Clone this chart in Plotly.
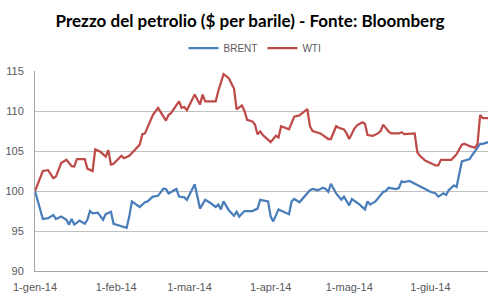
import plotly.graph_objects as go

wti_dates = ["2014-01-01","2014-01-04","2014-01-06","2014-01-08","2014-01-09","2014-01-11","2014-01-13","2014-01-15","2014-01-16","2014-01-17",
             "2014-01-20","2014-01-21","2014-01-23","2014-01-24","2014-01-26","2014-01-28","2014-01-29","2014-01-30","2014-01-31",
             "2014-02-03","2014-02-04","2014-02-05","2014-02-06","2014-02-08","2014-02-10","2014-02-11","2014-02-12","2014-02-15","2014-02-17",
             "2014-02-20","2014-02-21","2014-02-22","2014-02-25","2014-02-26","2014-02-27","2014-02-28",
             "2014-03-03","2014-03-05","2014-03-06","2014-03-07","2014-03-11","2014-03-12","2014-03-13","2014-03-14","2014-03-16","2014-03-18",
             "2014-03-19","2014-03-21","2014-03-22","2014-03-23","2014-03-25","2014-03-26","2014-03-27","2014-03-28","2014-03-29",
             "2014-04-01","2014-04-03","2014-04-04","2014-04-05","2014-04-08","2014-04-09","2014-04-10","2014-04-12","2014-04-13","2014-04-15",
             "2014-04-16","2014-04-17","2014-04-20","2014-04-21","2014-04-23","2014-04-24","2014-04-26","2014-04-27","2014-04-29","2014-04-30",
             "2014-05-01","2014-05-03","2014-05-04","2014-05-06","2014-05-07","2014-05-08","2014-05-10","2014-05-12","2014-05-13","2014-05-14",
             "2014-05-16","2014-05-17","2014-05-20","2014-05-21","2014-05-22","2014-05-26","2014-05-27","2014-05-28","2014-05-30",
             "2014-06-01","2014-06-03","2014-06-04","2014-06-05","2014-06-09","2014-06-10","2014-06-11","2014-06-13","2014-06-14","2014-06-16",
             "2014-06-18","2014-06-19","2014-06-20","2014-06-21","2014-06-23"]
wti_vals = [100,102.5,102.6,101.6,101.8,103.5,103.9,103.1,103.05,104.0,
            104.0,102.8,102.5,105.2,104.9,104.3,105.1,103.3,103.4,
            104.4,104.1,104.3,104.4,105.1,105.8,107.1,107.2,109.5,110.4,
            108.8,109.5,109.75,111.2,110.4,110.5,110.1,
            112.05,110.8,112.05,111.2,111.2,112.5,113.5,114.6,114.1,112.8,
            110.2,110.7,110.0,108.9,108.7,108.3,107.1,107.45,107.0,
            106.1,106.9,106.7,108.1,107.7,108.5,109.3,109.45,109.75,110.25,
            108.1,107.5,107.2,107.0,106.5,106.5,108.1,107.9,107.7,107.2,
            106.5,107.8,108.2,108.6,108.4,107.0,106.9,107.2,107.5,108.3,
            107.45,107.2,107.2,107.35,107.1,107.2,104.85,104.4,103.8,
            103.5,103.2,103.2,103.9,103.9,104.3,104.6,105.8,105.9,105.6,
            105.4,105.9,109.5,109.1,109.1]

brent_dates = ["2014-01-01","2014-01-04","2014-01-06","2014-01-08","2014-01-09","2014-01-11","2014-01-13","2014-01-14","2014-01-15","2014-01-16",
               "2014-01-18","2014-01-20","2014-01-21","2014-01-22","2014-01-23","2014-01-25","2014-01-27","2014-01-28","2014-01-30","2014-01-31",
               "2014-02-05","2014-02-06","2014-02-07","2014-02-10","2014-02-12","2014-02-13","2014-02-15","2014-02-17","2014-02-19","2014-02-20",
               "2014-02-21","2014-02-24","2014-02-25","2014-02-27","2014-02-28",
               "2014-03-03","2014-03-05","2014-03-07","2014-03-09","2014-03-11","2014-03-12","2014-03-13","2014-03-14","2014-03-16","2014-03-18",
               "2014-03-19","2014-03-20","2014-03-22","2014-03-25","2014-03-27","2014-03-28","2014-03-31",
               "2014-04-01","2014-04-02","2014-04-04","2014-04-06","2014-04-08","2014-04-09","2014-04-10","2014-04-12","2014-04-14","2014-04-16",
               "2014-04-17","2014-04-19","2014-04-21","2014-04-22","2014-04-23","2014-04-24","2014-04-26","2014-04-28","2014-04-29","2014-04-30",
               "2014-05-01","2014-05-02","2014-05-05","2014-05-07","2014-05-08","2014-05-09","2014-05-11","2014-05-12","2014-05-14","2014-05-15",
               "2014-05-16","2014-05-19","2014-05-20","2014-05-21","2014-05-22","2014-05-24","2014-05-25","2014-05-27","2014-05-29","2014-05-30",
               "2014-06-01","2014-06-03","2014-06-04","2014-06-06","2014-06-07","2014-06-08","2014-06-10","2014-06-11","2014-06-13","2014-06-14",
               "2014-06-16","2014-06-17","2014-06-19","2014-06-20","2014-06-21","2014-06-23"]
brent_vals = [100,96.5,96.6,97.0,96.5,96.8,96.4,95.8,96.5,95.8,
              96.3,95.9,96.4,97.5,97.2,97.3,96.4,97.1,97.4,95.9,
              95.4,96.8,98.7,98.0,98.6,98.7,99.3,99.4,100.3,100.25,
              99.7,100.25,99.3,99.2,98.9,
              100.85,97.8,98.9,98.5,98.0,98.3,97.7,98.7,97.6,96.9,
              97.4,96.8,97.5,97.5,97.8,98.9,98.7,
              96.8,96.2,97.7,97.4,97.1,98.7,99.0,98.6,99.3,100.1,
              100.25,100.1,100.4,100.25,99.9,100.9,99.7,98.9,99.3,98.7,
              98.2,99.0,98.3,97.7,98.7,98.3,98.7,99.1,99.9,100.0,
              100.4,100.25,100.4,101.2,101.1,101.25,101.1,100.75,100.5,100.25,
              99.9,99.7,99.3,99.7,99.5,100.1,100.7,100.5,103.7,103.8,
              104.0,104.5,105.4,105.9,105.9,106.1]

tick_dates = ["2014-01-01","2014-02-01","2014-03-01","2014-04-01","2014-05-01","2014-06-01"]
tick_labels = ["1-gen-14","1-feb-14","1-mar-14","1-apr-14","1-mag-14","1-giu-14"]

fig = go.Figure()
fig.add_trace(go.Scatter(x=brent_dates, y=brent_vals, mode="lines", name="BRENT",
                         line=dict(color="#4a7ebb", width=2.25)))
fig.add_trace(go.Scatter(x=wti_dates, y=wti_vals, mode="lines", name="WTI",
                         line=dict(color="#be4b48", width=2.25)))

gray = "#595959"
fig.update_layout(
    width=500, height=299,
    margin=dict(l=35, r=12, t=71, b=28),
    paper_bgcolor="white", plot_bgcolor="white",
    font=dict(family="Liberation Sans, Arial, sans-serif", color=gray, size=11),
    title=dict(text="<b>Prezzo del petrolio ($ per barile) - Fonte: Bloomberg</b>",
               x=0.5, xanchor="center", xref="container",
               y=1 - 21/299, yanchor="middle", yref="container",
               font=dict(family="Lato, Liberation Sans, sans-serif", size=17, color="black")),
    legend=dict(orientation="h", x=0.51, xanchor="center", xref="container",
                y=1 - 48/299, yanchor="middle", yref="container",
                font=dict(size=10, color=gray), itemwidth=30, tracegroupgap=0),
    xaxis=dict(range=["2014-01-01", "2014-06-23"], tickvals=tick_dates, ticktext=tick_labels,
               showgrid=False, showline=True, linecolor="#a6a6a6", linewidth=1,
               ticks="", tickfont=dict(size=11, color=gray), zeroline=False,
               ticklabelstandoff=6, automargin=False),
    yaxis=dict(range=[90, 115], dtick=5, showgrid=True, gridcolor="#c0c0c0", gridwidth=1,
               showline=True, linecolor="#a6a6a6", linewidth=1, ticks="",
               tickfont=dict(size=11, color=gray), zeroline=False, ticklabelstandoff=8,
               automargin=False),
)

fig.write_html("out.html")
